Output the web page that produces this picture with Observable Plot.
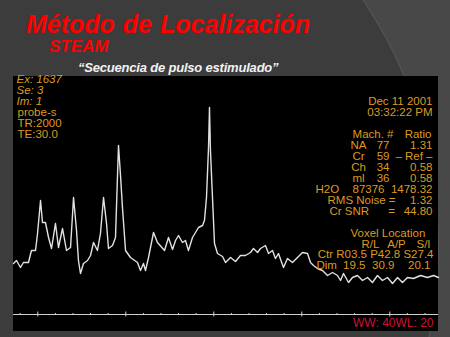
<!DOCTYPE html>
<html>
<head>
<meta charset="utf-8">
<script src="https://cdn.jsdelivr.net/npm/d3@7"></script>
<script src="https://cdn.jsdelivr.net/npm/@observablehq/plot@0.6"></script>
<style>
  html, body { margin: 0; padding: 0; background: #3b3b3b; }
  .slide { position: relative; width: 450px; height: 337px; overflow: hidden; background: #484848; font-family: "Liberation Sans", Arial, sans-serif; }
  .arc { position: absolute; left: -438px; top: -192px; width: 876px; height: 876px; border-radius: 50%; background: #3c3c3c; box-shadow: 0 0 0 1px #575757; }
  .title { position: absolute; left: 26px; top: 12px; margin: 0; font-size: 25px; line-height: 1; font-weight: bold; font-style: italic; color: #ff0000; white-space: nowrap; word-spacing: 1px; }
  .steam { position: absolute; left: 49px; top: 38px; font-size: 17px; line-height: 1; font-weight: bold; font-style: italic; color: #ff0000; }
  .subtitle { position: absolute; left: 78px; top: 61px; font-size: 13px; line-height: 1; font-weight: bold; font-style: italic; color: #f2f2f2; white-space: nowrap; letter-spacing: -0.2px; }
  #chart { position: absolute; left: 13px; top: 76px; width: 425px; height: 255px; background: #000; }
  #chart svg { display: block; }
</style>
</head>
<body>
<div class="slide">
  <div class="arc"></div>
  <div class="title">Método de Localización</div>
  <div class="steam">STEAM</div>
  <div class="subtitle">“Secuencia de pulso estimulado”</div>
  <div id="chart"></div>
</div>
<script>
// ---- Spectrum data (chemical shift in ppm, signal intensity in arbitrary units) ----
const ppm = [4.276,4.242,4.197,4.163,4.106,4.072,4.026,4.003,3.969,3.947,3.913,3.878,3.844,3.799,3.765,3.719,3.674,3.628,3.594,3.560,3.538,3.515,3.481,3.435,3.401,3.367,3.322,3.288,3.253,3.219,3.197,3.151,3.117,3.083,3.060,3.038,3.003,2.947,2.867,2.833,2.799,2.776,2.742,2.685,2.640,2.560,2.515,2.469,2.435,2.401,2.356,2.322,2.288,2.242,2.208,2.174,2.128,2.106,2.083,2.060,2.049,2.038,2.015,1.992,1.958,1.901,1.867,1.810,1.753,1.697,1.640,1.583,1.549,1.503,1.469,1.413,1.378,1.333,1.299,1.265,1.208,1.163,1.106,1.049,0.992,0.935,0.901,0.867,0.822,0.765,0.708,0.651,0.594,0.560,0.526,0.469,0.424,0.367,0.310,0.253,0.197,0.140,0.083,0.026,-0.031,-0.088,-0.144,-0.201,-0.269,-0.349,-0.428,-0.497,-0.553];
const intensity = [51,54,47,52,52,64,64,81,114,92,92,77,66,91,67,86,64,67,117,84,54,41,51,54,59,72,64,81,117,91,66,69,77,169,139,107,64,57,52,44,51,44,57,82,72,64,77,65,74,79,72,74,64,77,82,87,89,94,117,167,207,164,117,71,61,58,52,57,53,59,59,62,66,62,66,69,61,64,56,61,47,56,52,57,62,61,52,49,46,44,39,42,39,34,41,32,37,39,34,37,32,39,34,37,31,37,32,37,36,39,37,39,37];
const majorTicks = [4, 3, 2, 1, 0];
const minorTicks = [4.2, 3.8, 3.6, 3.4, 3.2, 2.8, 2.6, 2.4, 2.2, 1.8, 1.6, 1.4, 1.2, 0.8, 0.6, 0.4, 0.2, -0.2, -0.4];

// ---- Scanner annotations ----
const leftInfoItalic = ["Ex: 1637", "Se: 3", "Im: 1"];
const leftInfo = ["probe-s", "TR:2000", "TE:30.0"];
const dateLines = ["Dec 11 2001", "03:32:22 PM"];
const tableHeader = ["Mach. #", "Ratio"];
const metabolites = ["NA", "Cr", "Ch", "ml"];
const machNumbers = ["77", "59", "34", "36"];
const ratios = ["1.31", "– Ref –", "0.58", "0.58"];
const water = ["H2O", "87376", "1478.32"];
const noise = ["RMS Noise =", "1.32"];
const snr = ["Cr SNR", "=", "44.80"];
const voxelTitle = "Voxel Location";
const voxelAxes = ["R/L", "A/P", "S/I"];
const voxelCtr = "Ctr R03.5 P42.8 S27.4";
const voxelDim = ["Dim", "19.5", "30.9", "20.1"];
const windowLabel = "WW: 40WL: 20";

// ---- Layout (page pixel positions) ----
const PANEL_LEFT = 13, PANEL_TOP = 76, W = 425, H = 255;
const ORANGE = "#dc9a22";
const FONT = "Liberation Sans, Arial, sans-serif";
const leftY = i => 79 + i * 11;
const rowY = i => 101 + i * 10.95;

function label(text, px, py, anchor, extra = {}) {
  return Plot.text([text], {
    text: d => d,
    frameAnchor: "top-left",
    dx: px - PANEL_LEFT,
    dy: py - PANEL_TOP,
    textAnchor: anchor,
    lineAnchor: "middle",
    fill: ORANGE,
    fontSize: 11.5,
    fontFamily: FONT,
    ...extra
  });
}

const series = ppm.map((p, i) => ({ppm: p, value: intensity[i]}));

const textMarks = [
  ...leftInfoItalic.map((t, i) => label(t, 16, leftY(i), "start", {fontStyle: "italic"})),
  ...leftInfo.map((t, i) => label(t, 17, leftY(i + 3), "start")),
  ...dateLines.map((t, i) => label(t, 432, rowY(i), "end")),
  label(tableHeader[0], 393, rowY(3), "end"),
  label(tableHeader[1], 431, rowY(3), "end"),
  ...metabolites.map((t, i) => label(t, 358, rowY(4 + i), "middle")),
  ...machNumbers.map((t, i) => label(t, 389, rowY(4 + i), "end")),
  ...ratios.map((t, i) => label(t, 432, rowY(4 + i), "end")),
  label(water[0], 315, rowY(8), "start"),
  label(water[1], 384, rowY(8), "end"),
  label(water[2], 432, rowY(8), "end"),
  label(noise[0], 327, rowY(9), "start"),
  label(noise[1], 432, rowY(9), "end"),
  label(snr[0], 329, rowY(10), "start"),
  label(snr[1], 391, rowY(10), "middle"),
  label(snr[2], 432, rowY(10), "end"),
  label(voxelTitle, 350, rowY(12), "start"),
  label(voxelAxes[0], 370, rowY(13), "middle"),
  label(voxelAxes[1], 396, rowY(13), "middle"),
  label(voxelAxes[2], 423, rowY(13), "middle"),
  label(voxelCtr, 433, rowY(14), "end"),
  label(voxelDim[0], 316, rowY(15), "start"),
  label(voxelDim[1], 365, rowY(15), "end"),
  label(voxelDim[2], 394, rowY(15), "end"),
  label(voxelDim[3], 430, rowY(15), "end"),
  label(windowLabel, 433, 323, "end", {fill: "#c8123a", fontSize: 12})
];

const chart = Plot.plot({
  width: W,
  height: H,
  margin: 0,
  style: {background: "#000", overflow: "visible"},
  x: {domain: [4, 0], range: [24.3, 376.3], axis: null},
  y: {domain: [0, 238], range: [238, 0], axis: null},
  marks: [
    Plot.ruleY([0], {stroke: "#cfcfcf", strokeWidth: 1}),
    Plot.ruleX(majorTicks, {x: d => d, y1: -2.5, y2: 2.5, stroke: "#cfcfcf", strokeWidth: 1}),
    Plot.ruleX(minorTicks, {x: d => d, y1: -1, y2: 1, stroke: "#cfcfcf", strokeWidth: 1}),
    Plot.line(series, {x: "ppm", y: "value", stroke: "#e2e2e2", strokeWidth: 1.4}),
    ...textMarks
  ]
});
document.getElementById("chart").append(chart);
</script>
</body>
</html>
